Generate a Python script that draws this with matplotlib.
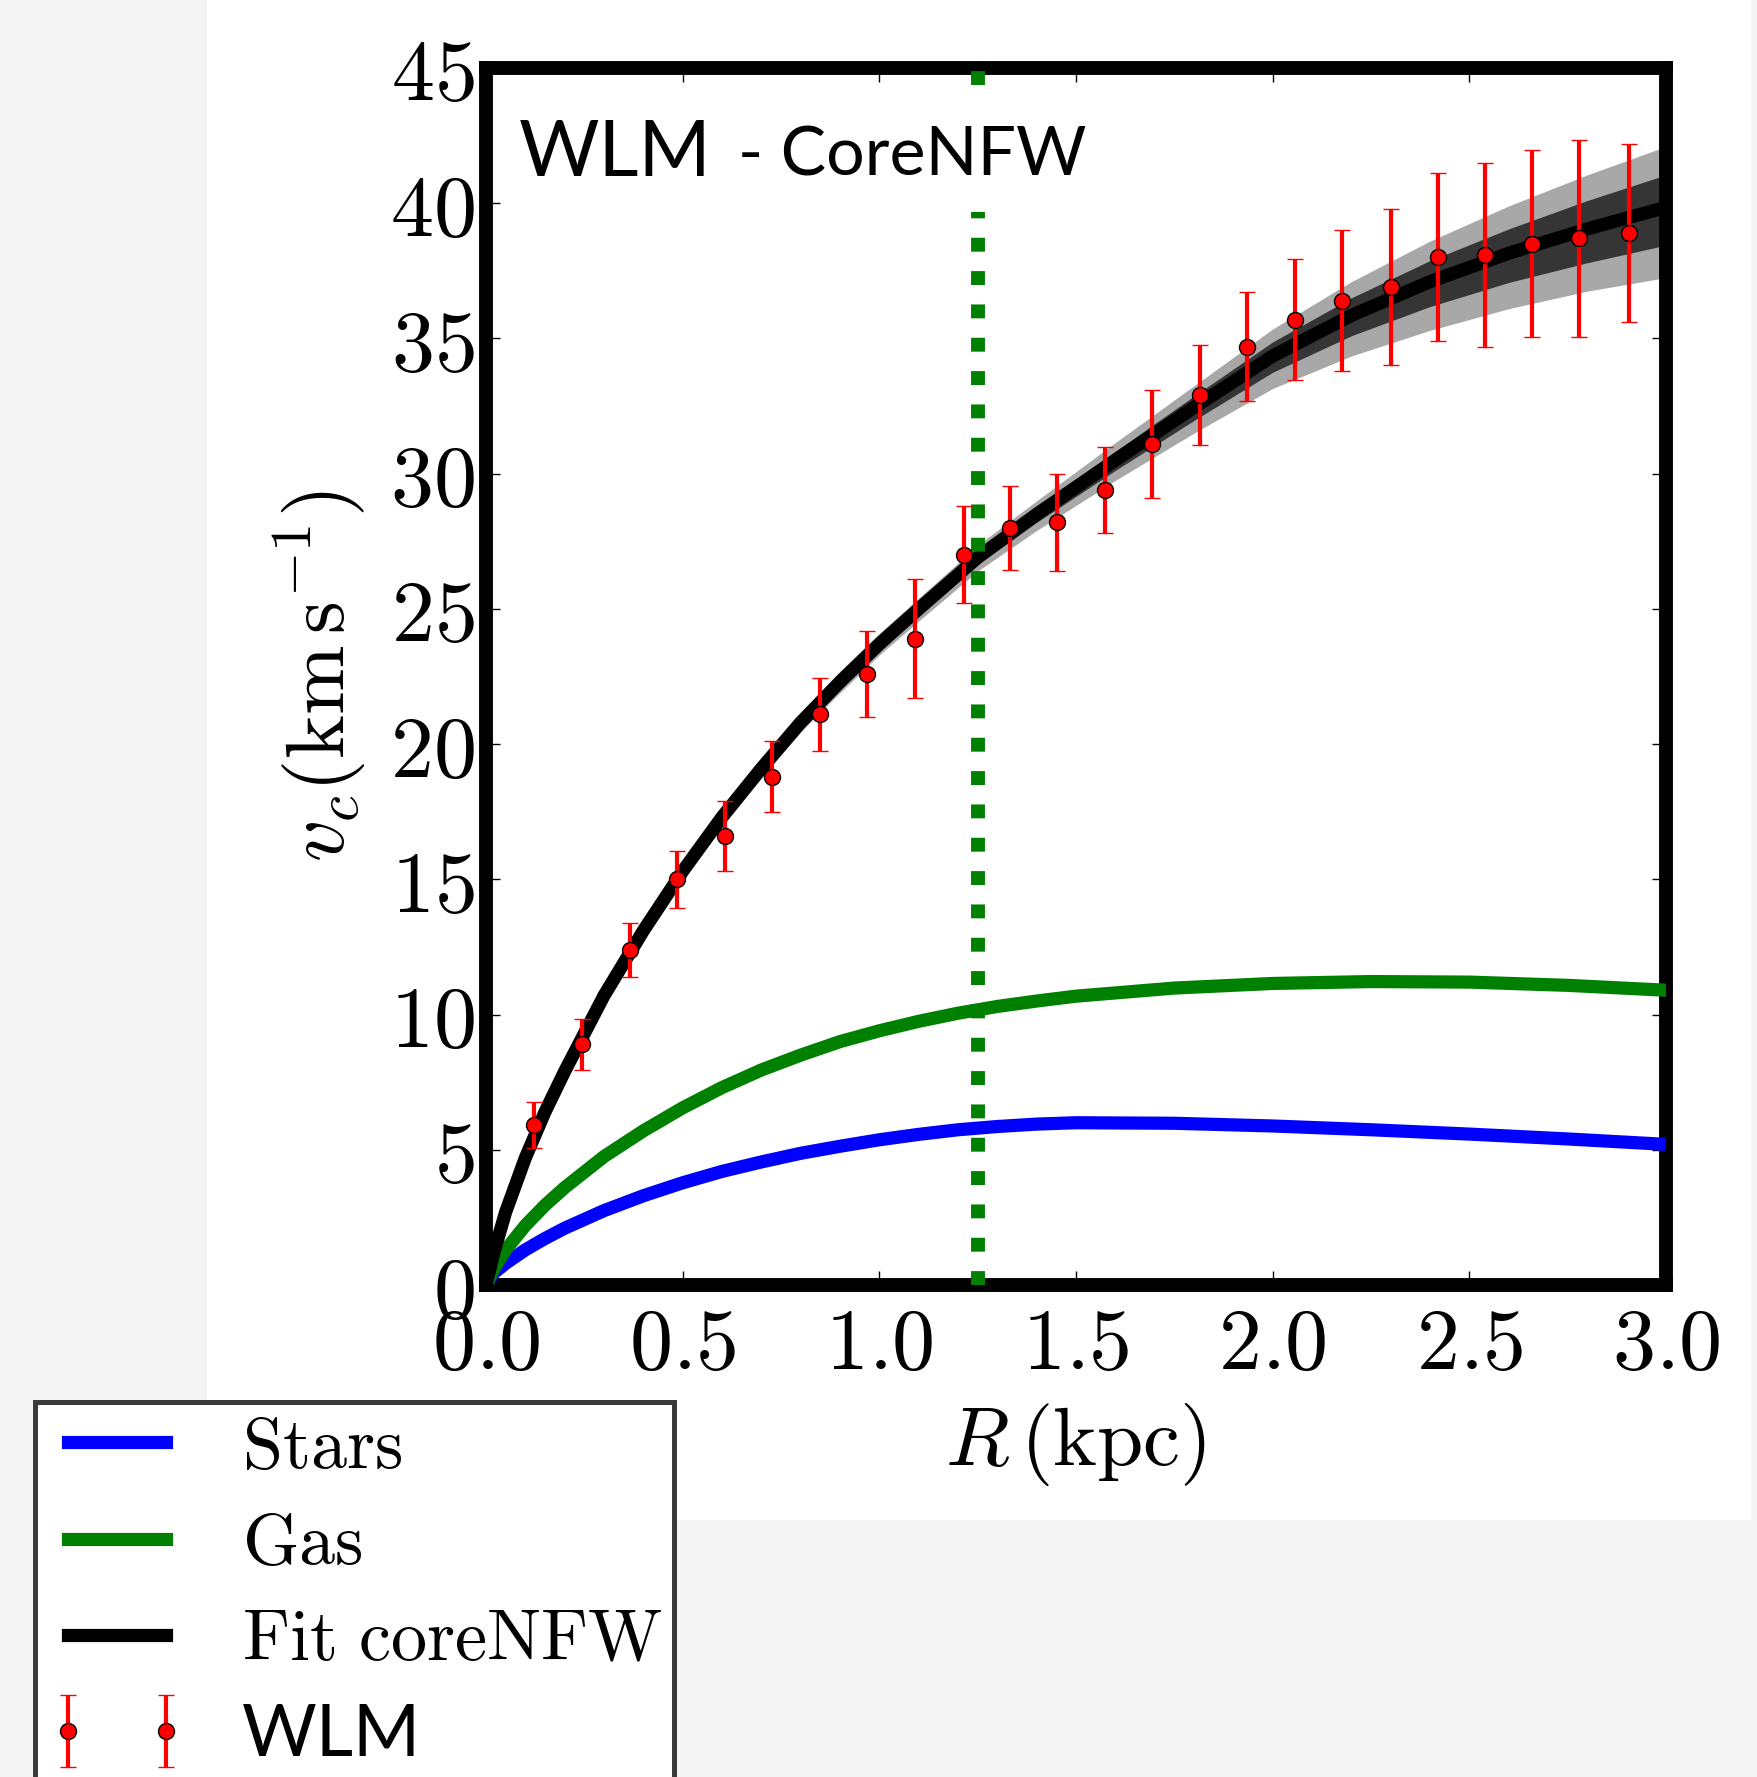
import matplotlib
matplotlib.use('Agg')
import matplotlib.pyplot as plt
from matplotlib.patches import Rectangle

plt.rcParams['mathtext.fontset'] = 'cm'

# WLM rotation curve
r_obs = [0.121, 0.244, 0.365, 0.486, 0.607, 0.728, 0.848, 0.969, 1.090, 1.214, 1.332, 1.452,
         1.573, 1.694, 1.815, 1.936, 2.056, 2.177, 2.300, 2.420, 2.540, 2.660, 2.780, 2.905]
v_obs = [5.9, 8.9, 12.4, 15.0, 16.6, 18.8, 21.1, 22.6, 23.9, 27.0, 28.0, 28.2,
         29.4, 31.1, 32.9, 34.7, 35.7, 36.4, 36.9, 38.0, 38.1, 38.5, 38.7, 38.9]
v_err = [0.85, 0.95, 1.0, 1.05, 1.3, 1.3, 1.35, 1.6, 2.2, 1.8, 1.55, 1.8,
         1.6, 2.0, 1.85, 2.0, 2.25, 2.6, 2.9, 3.1, 3.4, 3.45, 3.65, 3.3]

# coreNFW fit with 68% / 95% bands
r_mod = [0.0, 0.02, 0.05, 0.1, 0.15, 0.2, 0.3, 0.4, 0.5, 0.6, 0.7, 0.8, 0.9, 1.0, 1.1, 1.25,
         1.4, 1.6, 1.8, 2.0, 2.2, 2.4, 2.6, 2.8, 3.0]
v_fit = [0.0, 1.2, 2.7, 4.7, 6.4, 7.9, 10.7, 13.1, 15.3, 17.3, 19.1, 20.8, 22.3, 23.7, 25.0,
         26.9, 28.5, 30.5, 32.45, 34.35, 35.85, 37.1, 38.15, 39.05, 39.85]
fit_hi1 = [0.0, 1.23, 2.75, 4.78, 6.49, 8.0, 10.82, 13.25, 15.45, 17.48, 19.28, 20.98, 22.5,
           23.9, 25.2, 27.12, 28.75, 30.83, 32.87, 34.87, 36.5, 37.88, 39.05, 40.1, 41.05]
fit_lo1 = [0.0, 1.17, 2.65, 4.62, 6.31, 7.8, 10.58, 12.95, 15.15, 17.12, 18.92, 20.62, 22.1,
           23.5, 24.78, 26.65, 28.2, 30.12, 31.97, 33.75, 35.1, 36.18, 37.07, 37.8, 38.45]
fit_hi2 = [0.0, 1.25, 2.8, 4.85, 6.58, 8.1, 10.95, 13.4, 15.6, 17.65, 19.45, 21.15, 22.7,
           24.1, 25.4, 27.35, 29.0, 31.15, 33.25, 35.35, 37.1, 38.6, 39.9, 41.05, 42.1]
fit_lo2 = [0.0, 1.15, 2.6, 4.55, 6.22, 7.7, 10.45, 12.8, 15.0, 16.95, 18.75, 20.45, 21.9,
           23.3, 24.55, 26.4, 27.9, 29.75, 31.5, 33.15, 34.35, 35.3, 36.1, 36.75, 37.25]

# baryonic components
r_comp = [0.0, 0.02, 0.05, 0.1, 0.15, 0.2, 0.3, 0.4, 0.5, 0.6, 0.7, 0.8, 0.9, 1.0, 1.1, 1.2,
          1.3, 1.4, 1.5, 1.75, 2.0, 2.25, 2.5, 2.75, 3.0]
v_stars = [0.0, 0.45, 0.8, 1.3, 1.72, 2.1, 2.75, 3.3, 3.78, 4.2, 4.55, 4.87, 5.13, 5.37, 5.57,
           5.74, 5.86, 5.95, 6.0, 5.98, 5.88, 5.74, 5.58, 5.4, 5.2]
v_gas = [0.0, 0.6, 1.3, 2.2, 2.95, 3.6, 4.75, 5.7, 6.55, 7.3, 7.95, 8.5, 9.0, 9.4, 9.75,
         10.05, 10.3, 10.5, 10.68, 10.98, 11.15, 11.22, 11.2, 11.08, 10.9]

r_core = 1.25

x_ticks = [0.0, 0.5, 1.0, 1.5, 2.0, 2.5, 3.0]
x_ticklabels = ['0.0', '0.5', '1.0', '1.5', '2.0', '2.5', '3.0']
y_ticks = [0, 5, 10, 15, 20, 25, 30, 35, 40, 45]

W, H = 1758, 1777
fig = plt.figure(figsize=(W / 100, H / 100), dpi=100, facecolor='#f4f4f4')
fig.add_artist(Rectangle((207 / W, 1 - 1520 / H), (1751 - 207) / W, 1520 / H,
                         transform=fig.transFigure, facecolor='white', edgecolor='none', zorder=-10))

ax = fig.add_axes([486 / W, 1 - 1285 / H, (1666 - 486) / W, (1285 - 68) / H])

ax.fill_between(r_mod, fit_lo2, fit_hi2, color='#a8a8a8', lw=0, zorder=1)
ax.fill_between(r_mod, fit_lo1, fit_hi1, color='#353535', lw=0, zorder=2)
l_stars, = ax.plot(r_comp, v_stars, color='b', lw=9.5, zorder=3, solid_joinstyle='round')
l_gas, = ax.plot(r_comp, v_gas, color='g', lw=9.5, zorder=3, solid_joinstyle='round')
l_fit, = ax.plot(r_mod, v_fit, color='k', lw=9.5, zorder=4, solid_joinstyle='round')
ax.axvline(r_core, color='g', lw=10, dashes=(1, 1.4), dash_capstyle='butt', zorder=5)
eb = ax.errorbar(r_obs, v_obs, yerr=v_err, fmt='o', color='r', mfc='r', mec='k', mew=1,
                 ms=11.5, ecolor='r', elinewidth=3, capsize=5.5, capthick=2, zorder=6)

ax.set_xlim(0, 3.0)
ax.set_ylim(0, 45)
ax.set_xticks(x_ticks)
ax.set_xticklabels(['$' + t + '$' for t in x_ticklabels])
ax.set_yticks(y_ticks)
ax.set_yticklabels(['$%d$' % t for t in y_ticks])
ax.tick_params(direction='in', top=True, right=True, length=10, width=1, labelsize=62)
ax.tick_params(axis='x', pad=14)
ax.tick_params(axis='y', pad=8)
for s in ax.spines.values():
    s.set_linewidth(10)

ax.set_xlabel(r'$R\,(\mathrm{kpc})$', fontsize=60)
ax.set_ylabel(r'$v_c(\mathrm{km\,s^{-1}})$', fontsize=60)
ax.xaxis.set_label_coords(0.5, -0.095)
ax.yaxis.set_label_coords(-0.10, 0.5)

fig.text(519 / W, 1 - 176 / H, 'WLM', fontsize=56, family='Lato', va='baseline')
fig.text(738 / W, 1 - 176 / H, '- CoreNFW', fontsize=49, family='Lato', va='baseline',
         bbox=dict(facecolor='white', edgecolor='none', pad=17))

leg = ax.legend([l_stars, l_gas, l_fit, eb],
                [r'$\mathrm{Stars}$', r'$\mathrm{Gas}$', r'$\mathrm{Fit\ coreNFW}$', 'WLM'],
                loc='upper left', bbox_to_anchor=(35 / W, 1 - 1402 / H),
                bbox_transform=fig.transFigure, borderaxespad=0, fontsize=52, numpoints=2,
                handlelength=1.96, handletextpad=0.74, borderpad=0.16, labelspacing=0.38,
                fancybox=False, framealpha=1, edgecolor='#3a3a3a')
leg.get_frame().set_linewidth(3.6)
leg.get_texts()[3].set_fontfamily('Lato')
leg.set_zorder(20)

fig.savefig('out.png', dpi=100, facecolor=fig.get_facecolor())
